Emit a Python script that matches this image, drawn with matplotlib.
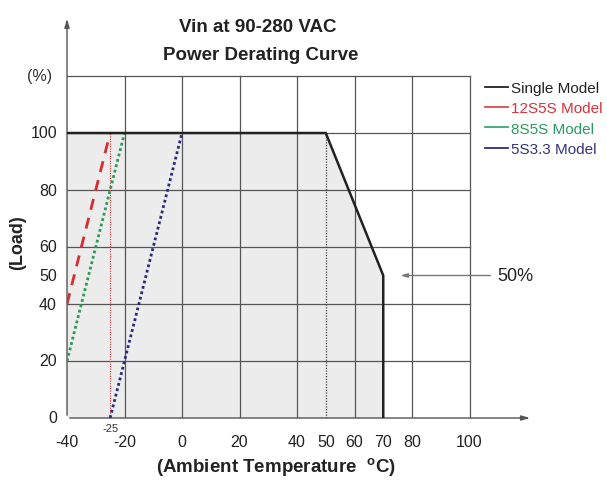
import matplotlib
matplotlib.use("Agg")
import matplotlib.pyplot as plt
from matplotlib.lines import Line2D
from matplotlib.patches import Polygon

plt.rcParams['font.family'] = ['Liberation Sans', 'DejaVu Sans']

# ---- data ----
single_x = [-40, 50, 70, 70]
single_y = [100, 100, 50, 0]
m12_x = [-40, -25]
m12_y = [40, 100]
m8_x = [-40, -20]
m8_y = [20, 100]
m5_x = [-25, 0]
m5_y = [0, 100]
fill_x = [-40, -40, 50, 70, 70]
fill_y = [0, 100, 100, 50, 0]
xticks = [-40, -20, 0, 20, 40, 50, 60, 70, 80, 100]
yticks = [0, 20, 40, 50, 60, 80, 100]
grid_x = [-20, 0, 20, 40, 60, 80, 100]
grid_y = [20, 40, 60, 80, 100, 120]
legend_labels = ["Single Model", "12S5S Model", "8S5S Model", "5S3.3 Model"]
line_colors = ["#222222", "#e0474a", "#3aa872", "#2d2d80"]
text_colors = ["#222222", "#d83236", "#2a9a60", "#33337f"]

W, H = 607, 481
fig = plt.figure(figsize=(W / 100, H / 100), dpi=100)
x0_px, x_per = 67, 2.875
y0_px, y_per = 419, 2.85
xmin, xmax = -40, 122
ymin, ymax = 0, 141
left = x0_px / W
width = (xmax - xmin) * x_per / W
bottom = (H - y0_px) / H
height = (ymax - ymin) * y_per / H
ax = fig.add_axes([left, bottom, width, height])
ax.set_xlim(xmin, xmax)
ax.set_ylim(ymin, ymax)
for s in ax.spines.values():
    s.set_visible(False)
ax.set_xticks([])
ax.set_yticks([])

# fill
ax.add_patch(Polygon(list(zip(fill_x, fill_y)), closed=True, facecolor="#ececec",
                     edgecolor="none", zorder=1))
# grid
gc = "#555555"
for gx in grid_x:
    ax.plot([gx, gx], [0, 120], color=gc, lw=0.9, zorder=2)
for gy in grid_y:
    ax.plot([-40, 100], [gy, gy], color=gc, lw=0.9, zorder=2)

# axes with arrows
ax.annotate("", xy=(xmax, 0), xytext=(-40, 0),
            arrowprops=dict(arrowstyle="-|>,head_length=0.5,head_width=0.15",
                            color="#555555", lw=1.0), zorder=3)
ax.annotate("", xy=(-40, ymax), xytext=(-40, 0),
            arrowprops=dict(arrowstyle="-|>,head_length=0.5,head_width=0.15",
                            color="#555555", lw=1.0), zorder=3)

# dotted reference lines
ax.plot([50, 50], [0, 100], color="#444444", lw=0.9, ls=(0, (1, 1.2)), zorder=3)
ax.plot([-25, -25], [0, 100], color="#e03030", lw=0.8, ls=(0, (1, 1.2)), zorder=3)

# curves
ax.plot(single_x, single_y, color=line_colors[0], lw=1.8, zorder=5,
        solid_joinstyle="miter")
ax.plot(m12_x, m12_y, color="#d42e32", lw=2.0, ls=(0, (4, 3)), zorder=4)
ax.plot(m8_x, m8_y, color="#2a9a55", lw=2.0, ls=(0, (1, 1)), zorder=4)
ax.plot(m5_x, m5_y, color="#2a2a7a", lw=2.0, ls=(0, (1, 1)), zorder=4)

# tick labels
tfs = 11.5
for t in xticks:
    ax.text(t, -8.3, str(t), ha="center", va="center", fontsize=tfs, color="#222222")
for t in yticks:
    ax.text(-43.5, t, str(t), ha="right", va="center", fontsize=tfs, color="#222222")
ax.text(-25, -3.6, "-25", ha="center", va="center", fontsize=8, color="#333333")
ax.text(-49.5, 120, "(%)", ha="center", va="center", fontsize=tfs, color="#333333")

# axis labels
fig.text(18 / W, 1 - 243 / H, "(Load)", rotation=90, ha="center", va="center",
         fontsize=13, fontweight="bold", color="#222222")
fig.text(276 / W, 1 - 468 / H, "(Ambient Temperature  $^{\\mathregular{o}}$C)",
         ha="center", va="center", fontsize=13.5, fontweight="bold", color="#222222")

# titles
fig.text(258 / W, 1 - 28 / H, "Vin at 90-280 VAC", ha="center", va="center",
         fontsize=13.5, fontweight="bold", color="#222222")
fig.text(261 / W, 1 - 56 / H, "Power Derating Curve", ha="center", va="center",
         fontsize=13.5, fontweight="bold", color="#222222")

# 50% annotation
ax.annotate("", xy=(75, 50), xytext=(108.2, 50),
            arrowprops=dict(arrowstyle="-|>,head_length=0.4,head_width=0.12",
                            color="#777777", lw=1.0), zorder=6)
ax.text(109.6, 50, "50%", ha="left", va="center", fontsize=13, color="#222222")

# legend
handles = [Line2D([0], [0], color=c, lw=1.3) for c in line_colors]
leg = ax.legend(handles, legend_labels, loc="upper left",
                bbox_to_anchor=(485 / W, 1 - 82 / H), bbox_transform=fig.transFigure,
                frameon=False, fontsize=11, handlelength=1.5, handletextpad=0.2,
                labelspacing=0.42, borderpad=0, borderaxespad=0)
for txt, c in zip(leg.get_texts(), text_colors):
    txt.set_color(c)

fig.savefig("out.png", dpi=100)
